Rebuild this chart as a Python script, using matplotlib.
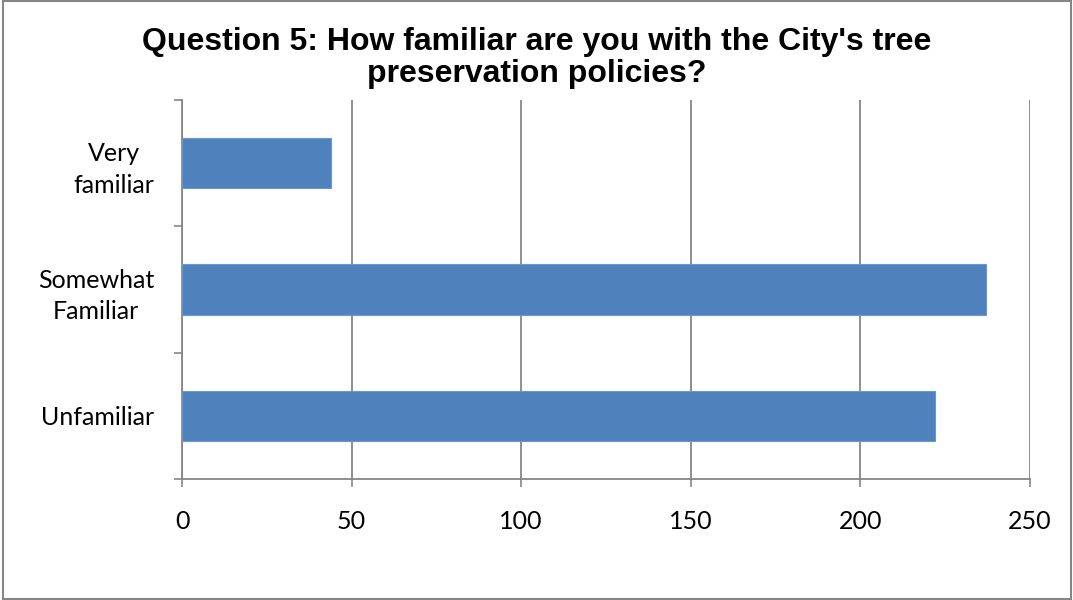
import matplotlib
matplotlib.use("Agg")
import matplotlib.pyplot as plt
from matplotlib.patches import Rectangle

# survey answers, bottom to top as drawn
CATEGORIES = ["Unfamiliar", "Somewhat\nFamiliar", "Very\nfamiliar"]
COUNTS = [222, 237, 44]
X_TICKS = [0, 50, 100, 150, 200, 250]
TITLE = "Question 5: How familiar are you with the City's tree\npreservation policies?"

BAR_COLOR = "#4F81BD"
AXIS_GREY = "#868686"

fig = plt.figure(figsize=(10.73, 6.0), dpi=100)
ax = fig.add_axes([182 / 1073, 1 - 479 / 600, 848 / 1073, 379 / 600])

ypos = range(len(CATEGORIES))
ax.barh(ypos, COUNTS, height=0.4, color=BAR_COLOR, edgecolor="#6B98CC",
        linewidth=0.8, zorder=3)

ax.set_xlim(0, 250)
ax.set_ylim(-0.5, len(CATEGORIES) - 0.5)

# x axis
ax.set_xticks(X_TICKS)
ax.tick_params(axis="x", direction="out", length=6, width=1.2,
               color=AXIS_GREY, pad=16.5, labelsize=18)
ax.grid(axis="x", color=AXIS_GREY, linewidth=1.3, zorder=1)

# y axis: ticks at category borders, labels at centres
ax.set_yticks([i - 0.5 for i in range(len(CATEGORIES) + 1)])
ax.set_yticklabels([])
ax.set_yticks(list(ypos), minor=True)
ax.set_yticklabels(CATEGORIES, minor=True)
ax.tick_params(axis="y", which="major", direction="out", length=6,
               width=1.2, color=AXIS_GREY)
ax.tick_params(axis="y", which="minor", length=0, pad=20, labelsize=18)
for lbl in ax.get_yticklabels(minor=True):
    lbl.set_multialignment("center")
    lbl.set_linespacing(1.45)

for lbl in ax.get_xticklabels() + ax.get_yticklabels(minor=True):
    lbl.set_fontfamily("Lato")

for side in ("top", "right"):
    ax.spines[side].set_visible(False)
for side in ("left", "bottom"):
    ax.spines[side].set_color(AXIS_GREY)
    ax.spines[side].set_linewidth(1.3)

fig.text(0.5, 0.955, TITLE, ha="center", va="top", fontsize=23,
         fontweight="bold", family="Liberation Sans", linespacing=1.08)

# chart border
fig.patches.append(Rectangle((3 / 1073, 1 / 600), 1068 / 1073, 598 / 600,
                             transform=fig.transFigure, fill=False,
                             edgecolor=AXIS_GREY, linewidth=1.5))

fig.savefig("out.png", dpi=100)
